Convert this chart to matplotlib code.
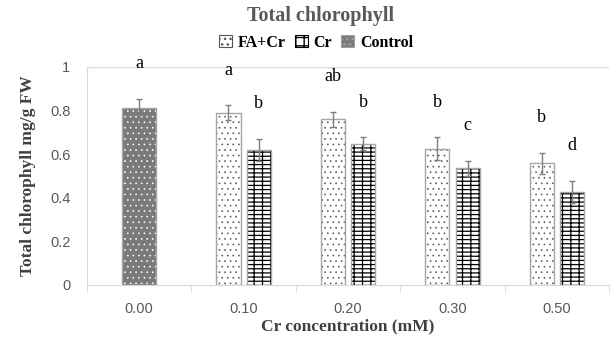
# bar chart of total chlorophyll under Cr treatment, with and without FA

import matplotlib.pyplot as plt
import numpy as np

categories = ["0.00", "0.10", "0.20", "0.30", "0.50"]

control_value = 0.81
control_err = 0.045
control_letter = "a"

fa_cr = [0.79, 0.76, 0.625, 0.558]
fa_cr_err = [0.035, 0.035, 0.052, 0.048]
fa_cr_letters = ["a", "ab", "b", "b"]

cr = [0.62, 0.647, 0.535, 0.428]
cr_err = [0.05, 0.03, 0.035, 0.05]
cr_letters = ["b", "b", "c", "d"]

fig = plt.figure(figsize=(6.1, 3.38), dpi=100)
ax = fig.add_axes([0.1426, 0.157, 0.856, 0.645])

serif = "Liberation Serif"
sans = "Liberation Sans"
edge = "#a6a6a6"
err_color = "#7f7f7f"

index = np.arange(len(categories))
bar_width = 0.23
offset = 0.145
letter_gap = 0.16

# dotted fills use a thin hatch line so the dots stay small
with plt.rc_context({"hatch.linewidth": 0.45}):
    ax.bar(index[0], control_value, 0.33, color="#7a7a7a", edgecolor="white",
           hatch="...", linewidth=0)
    x_fa = index[1:] - offset
    ax.bar(x_fa, fa_cr, bar_width, color="white", edgecolor="#555555",
           hatch="...", linewidth=0)

with plt.rc_context({"hatch.linewidth": 0.9}):
    x_cr = index[1:] + offset
    ax.bar(x_cr, cr, bar_width, color="white", edgecolor="black",
           hatch="----||", linewidth=0)

# outlines and error bars
ax.bar(index[0], control_value, 0.33, fill=False, edgecolor=edge, linewidth=1)
ax.bar(x_fa, fa_cr, bar_width, fill=False, edgecolor=edge, linewidth=1)
ax.bar(x_cr, cr, bar_width, fill=False, edgecolor=edge, linewidth=1)
ax.errorbar(index[0], control_value, yerr=control_err, fmt="none",
            ecolor=err_color, elinewidth=1, capsize=2.5)
ax.errorbar(x_fa, fa_cr, yerr=fa_cr_err, fmt="none",
            ecolor=err_color, elinewidth=1, capsize=2.5)
ax.errorbar(x_cr, cr, yerr=cr_err, fmt="none",
            ecolor=err_color, elinewidth=1, capsize=2.5)

# significance letters
ax.text(index[0], control_value + control_err + letter_gap, control_letter,
        ha="center", va="center", fontsize=13, family=serif, clip_on=False)
for x, v, e, s in zip(x_fa, fa_cr, fa_cr_err, fa_cr_letters):
    ax.text(x, v + e + letter_gap, s, ha="center", va="center",
            fontsize=13, family=serif, clip_on=False)
for x, v, e, s in zip(x_cr, cr, cr_err, cr_letters):
    ax.text(x, v + e + letter_gap, s, ha="center", va="center",
            fontsize=13, family=serif, clip_on=False)

# axes styling
ax.set_xlim(-0.5, len(categories) - 0.5)
ax.set_ylim(0, 1)
ax.set_yticks(np.arange(0, 1.01, 0.2))
ax.set_yticklabels(["0", "0.2", "0.4", "0.6", "0.8", "1"])
ax.set_xticks(index)
ax.set_xticklabels(categories)
ax.set_xticks(np.arange(-0.5, len(categories), 1.0), minor=True)
ax.tick_params(axis="x", which="major", length=0, pad=12)
ax.tick_params(axis="x", which="minor", length=5, color="#d9d9d9")
ax.tick_params(axis="y", length=0, pad=12)
for lab in ax.get_xticklabels() + ax.get_yticklabels():
    lab.set_family(sans)
    lab.set_fontsize(10.5)
    lab.set_color("#595959")

for side in ["top", "right"]:
    ax.spines[side].set_visible(False)
for side in ["left", "bottom"]:
    ax.spines[side].set_color("#d9d9d9")
ax.axhline(1.0, color="#d9d9d9", linewidth=1)

ax.set_xlabel("Cr concentration (mM)", family=serif, fontweight="bold",
              fontsize=12.5, color="#404040", labelpad=2)
ax.set_ylabel("Total chlorophyll mg/g FW", family=serif, fontweight="bold",
              fontsize=12.5, color="#404040", labelpad=10)

fig.text(0.525, 0.953, "Total chlorophyll", ha="center", va="center",
         family=serif, fontweight="bold", fontsize=14.5, color="#595959")

# legend
h1 = plt.Rectangle((0, 0), 1, 1, facecolor="white", edgecolor="#555555", hatch="...", linewidth=0.8)
h2 = plt.Rectangle((0, 0), 1, 1, facecolor="white", edgecolor="black", hatch="--||", linewidth=0.8)
h3 = plt.Rectangle((0, 0), 1, 1, facecolor="#7a7a7a", edgecolor="#a0a0a0", hatch="...", linewidth=0.8)
fig.legend([h1, h2, h3], ["FA+Cr", "Cr", "Control"], loc="center",
           bbox_to_anchor=(0.518, 0.873), ncol=3, frameon=False,
           handlelength=0.8, handleheight=0.8, handletextpad=0.35,
           columnspacing=0.6, prop={"family": serif, "weight": "bold", "size": 11.5})

fig.savefig("out.png", dpi=100)
